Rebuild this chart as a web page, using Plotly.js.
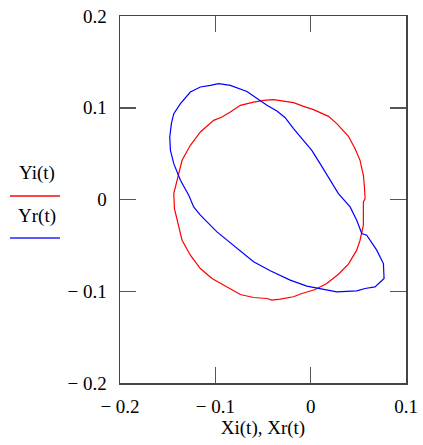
<!DOCTYPE html>
<html>
<head>
<meta charset="utf-8">
<script src="https://cdn.plot.ly/plotly-3.0.1.min.js"></script>
<style>html,body{margin:0;padding:0;background:#fff;}#chart{width:423px;height:445px;}</style>
</head>
<body>
<div id="chart"></div>
<script>
// Red curve: Yi(t) vs Xi(t)
const Xi = [-0.0389,-0.0284,-0.0180,-0.0075,0.0030,0.0187,0.0274,0.0396,0.0466,0.0518,0.0553,0.0564,0.0571,0.0553,0.0553,0.0553,0.0518,0.0483,0.0396,0.0291,0.0169,0.0047,-0.0092,-0.0180,-0.0319,-0.0407,-0.0459,-0.0599,-0.0738,-0.0878,-0.1035,-0.1157,-0.1262,-0.1349,-0.1384,-0.1429,-0.1436,-0.1401,-0.1349,-0.1262,-0.1157,-0.1017,-0.0930,-0.0843,-0.0738,-0.0599,-0.0494,-0.0389];
const Yi = [0.1088,0.1073,0.1055,0.1015,0.0979,0.0906,0.0827,0.0689,0.0554,0.0427,0.0264,0.0137,0.0010,-0.0026,-0.0190,-0.0280,-0.0444,-0.0552,-0.0705,-0.0814,-0.0915,-0.0981,-0.1024,-0.1060,-0.1086,-0.1097,-0.1079,-0.1068,-0.1035,-0.0952,-0.0861,-0.0752,-0.0607,-0.0444,-0.0298,-0.0099,0.0064,0.0210,0.0427,0.0591,0.0736,0.0863,0.0899,0.0953,0.1026,0.1062,0.1080,0.1088];
// Blue curve: Yr(t) vs Xr(t)
const Xr = [-0.0965,-0.0843,-0.0668,-0.0564,-0.0459,-0.0354,-0.0267,-0.0180,-0.0075,0.0012,0.0099,0.0204,0.0291,0.0414,0.0483,0.0536,0.0588,0.0693,0.0763,0.0770,0.0675,0.0571,0.0483,0.0274,0.0065,-0.0040,-0.0215,-0.0424,-0.0599,-0.0738,-0.0843,-0.0983,-0.1157,-0.1227,-0.1279,-0.1366,-0.1436,-0.1471,-0.1478,-0.1461,-0.1436,-0.1366,-0.1262,-0.1157,-0.1052,-0.0965];
const Yr = [0.1262,0.1244,0.1178,0.1099,0.1026,0.0964,0.0892,0.0772,0.0645,0.0536,0.0391,0.0210,0.0064,-0.0081,-0.0226,-0.0371,-0.0389,-0.0552,-0.0698,-0.0861,-0.0952,-0.0970,-0.0995,-0.1006,-0.0970,-0.0944,-0.0879,-0.0777,-0.0679,-0.0560,-0.0480,-0.0353,-0.0171,-0.0081,0.0046,0.0210,0.0391,0.0536,0.0681,0.0826,0.0935,0.1044,0.1171,0.1226,0.1244,0.1262];

const xTickVals = [-0.2, -0.1, 0, 0.1];
const xTickText = ["\u2212 0.2", "\u2212 0.1", "0", "0.1"];
const yTickVals = [-0.2, -0.1, 0, 0.1, 0.2];
const yTickText = ["\u2212 0.2", "\u2212 0.1", "0", "0.1", "0.2"];
const seriesNames = ["Yi(t)", "Yr(t)"];
const xTitle = "Xi(t), Xr(t)";

const font = {family: "Liberation Serif, Times New Roman, serif", size: 19, color: "#000"};

const traces = [
  {x: Xi, y: Yi, mode: "lines", name: seriesNames[0], line: {color: "#ff0000", width: 1.2}, hoverinfo: "skip"},
  {x: Xr, y: Yr, mode: "lines", name: seriesNames[1], line: {color: "#0000ff", width: 1.2}, hoverinfo: "skip"}
];

const axisCommon = {
  showgrid: false, zeroline: false, showline: true, mirror: "ticks",
  linecolor: "#444", linewidth: 1.5,
  ticks: "inside", ticklen: 16, tickwidth: 1.5, tickcolor: "#555",
  tickfont: font, tickmode: "array"
};

const layout = {
  width: 423, height: 445,
  margin: {l: 120, r: 17, t: 16, b: 62},
  paper_bgcolor: "#fff", plot_bgcolor: "#fff",
  showlegend: false,
  font: font,
  xaxis: Object.assign({}, axisCommon, {
    range: [-0.2, 0.1], tickvals: xTickVals, ticktext: xTickText,
    ticklabelstandoff: 6,
    title: {text: xTitle, font: font, standoff: 4}
  }),
  yaxis: Object.assign({}, axisCommon, {
    range: [-0.2, 0.2], tickvals: yTickVals, ticktext: yTickText,
    ticklabelstandoff: 8
  }),
  annotations: [
    {xref: "paper", yref: "paper", x: -0.290, y: 0.572, text: seriesNames[0], showarrow: false, font: font, xanchor: "center", yanchor: "middle"},
    {xref: "paper", yref: "paper", x: -0.290, y: 0.455, text: seriesNames[1], showarrow: false, font: font, xanchor: "center", yanchor: "middle"}
  ],
  shapes: [
    {type: "line", xref: "paper", yref: "paper", x0: -0.3846, x1: -0.2098, y0: 0.5095, y1: 0.5095, line: {color: "rgb(255,70,70)", width: 2}},
    {type: "line", xref: "paper", yref: "paper", x0: -0.3846, x1: -0.2098, y0: 0.395, y1: 0.395, line: {color: "rgb(90,90,255)", width: 2}}
  ]
};

Plotly.newPlot("chart", traces, layout, {staticPlot: true, displayModeBar: false});
</script>
</body>
</html>
